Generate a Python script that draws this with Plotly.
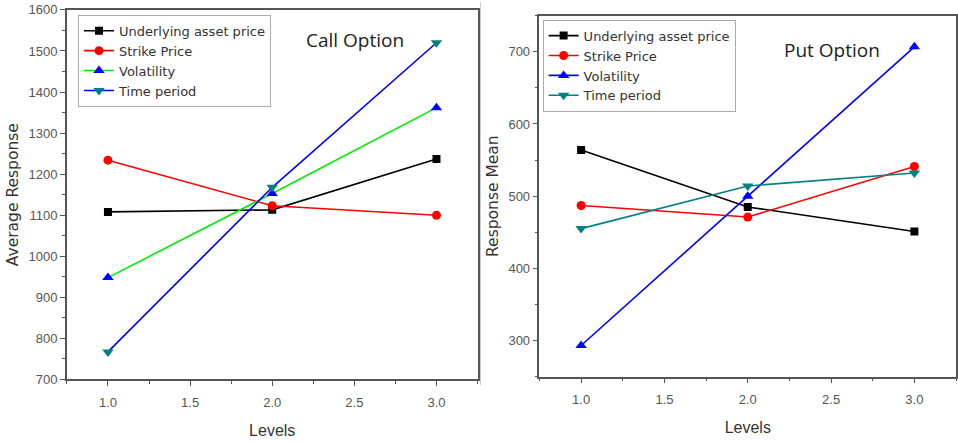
import plotly.graph_objects as go

levels = [1.0, 2.0, 3.0]
series_names = ["Underlying asset price", "Strike Price", "Volatility", "Time period"]

call_underlying = [1108, 1113, 1237]
call_strike = [1234, 1123, 1100]
call_volatility = [948, 1153, 1362]
call_time = [767, 1168, 1520]

put_underlying = [564, 485, 451]
put_strike = [487, 471, 541]
put_volatility = [293, 500, 707]
put_time = [455, 514, 532]

call_styles = [
    ("#000000", "#000000", "square", 8),
    ("#ff0000", "#ff0000", "circle", 9),
    ("#00ee00", "#0000ff", "triangle-up", 10),
    ("#0000ff", "#008080", "triangle-down", 10),
]
put_styles = [
    ("#000000", "#000000", "square", 8),
    ("#ff0000", "#ff0000", "circle", 9),
    ("#0000ff", "#0000ff", "triangle-up", 10),
    ("#008080", "#008080", "triangle-down", 10),
]

fig = go.Figure()

for name, vals, (lc, mc, sym, sz) in zip(series_names, [call_underlying, call_strike, call_volatility, call_time], call_styles):
    fig.add_trace(go.Scatter(x=levels, y=vals, name=name, mode="lines+markers",
                             line=dict(color=lc, width=1.6),
                             marker=dict(color=mc, symbol=sym, size=sz),
                             xaxis="x", yaxis="y", legend="legend"))

for name, vals, (lc, mc, sym, sz) in zip(series_names, [put_underlying, put_strike, put_volatility, put_time], put_styles):
    fig.add_trace(go.Scatter(x=levels, y=vals, name=name, mode="lines+markers",
                             line=dict(color=lc, width=1.6),
                             marker=dict(color=mc, symbol=sym, size=sz),
                             xaxis="x2", yaxis="y2", legend="legend2"))

axis_common = dict(showline=True, linecolor="#555555", linewidth=1.5, mirror=True,
                   ticks="outside", ticklen=5, tickcolor="#555555", showgrid=False, zeroline=False,
                   ticklabeloverflow="allow",
                   tickfont=dict(family="Liberation Sans, Arial", size=13, color="#555555"))

xcommon = dict(axis_common, range=[0.75, 3.25], tickvals=[1.0, 1.5, 2.0, 2.5, 3.0],
               ticktext=["1.0", "1.5", "2.0", "2.5", "3.0"], ticklabelstandoff=5,
               minor=dict(dtick=0.25, tick0=0.75, ticks="outside", ticklen=3, tickcolor="#555555"))

xtitle_font = dict(family="Liberation Sans, Arial", size=16, color="#333333")
ytitle_font = dict(family="DejaVu Sans", size=15.5, color="#333333")
H = 439.0  # plotting height with top margin 4

fig.update_layout(
    width=958, height=443,
    margin=dict(l=0, r=0, t=4, b=0),
    paper_bgcolor="white", plot_bgcolor="white",
    font=dict(family="Liberation Sans, Arial", color="#333333"),
    xaxis=dict(xcommon, domain=[0.0699, 0.499], anchor="y",
               title=dict(text="Levels", font=xtitle_font, standoff=16)),
    yaxis=dict(axis_common, domain=[1 - 382 / H, 1 - 3 / H], anchor="x", range=[700, 1600], dtick=100,
               minor=dict(dtick=50, ticks="outside", ticklen=3, tickcolor="#555555"),
               title=dict(text="Average Response", font=ytitle_font, standoff=6)),
    xaxis2=dict(xcommon, domain=[0.5637, 0.999], anchor="y2",
                title=dict(text="Levels", font=xtitle_font, standoff=16)),
    yaxis2=dict(axis_common, domain=[1 - 379 / H, 1 - 9 / H], anchor="x2", range=[250, 750], dtick=100,
                minor=dict(dtick=50, ticks="outside", ticklen=3, tickcolor="#555555"),
                title=dict(text="Response Mean", font=ytitle_font, standoff=6)),
    legend=dict(x=0.0815, y=1 - 8 / H, xanchor="left", yanchor="top", bgcolor="white",
                bordercolor="#aaaaaa", borderwidth=1,
                font=dict(family="DejaVu Sans", size=13, color="#333333"),
                tracegroupgap=0, itemwidth=30),
    legend2=dict(x=0.567, y=1 - 13 / H, xanchor="left", yanchor="top", bgcolor="white",
                 bordercolor="#aaaaaa", borderwidth=1,
                 font=dict(family="DejaVu Sans", size=13, color="#333333"),
                 tracegroupgap=0, itemwidth=30),
    showlegend=True,
    annotations=[
        dict(text="Call Option", x=355 / 958, y=1 - 34 / H, xref="paper", yref="paper", showarrow=False,
             xanchor="center", yanchor="middle",
             font=dict(family="Open Sans, Liberation Sans", size=19, color="#222222")),
        dict(text="Put Option", x=833 / 958, y=1 - 44 / H, xref="paper", yref="paper", showarrow=False,
             xanchor="center", yanchor="middle",
             font=dict(family="Open Sans, Liberation Sans", size=19, color="#222222")),
    ],
)

fig.add_shape(type="line", xref="paper", yref="paper", x0=481/958, x1=481/958, y0=1-388/H, y1=1.01,
              line=dict(color="#cccccc", width=1))

fig.write_html("out.html")
